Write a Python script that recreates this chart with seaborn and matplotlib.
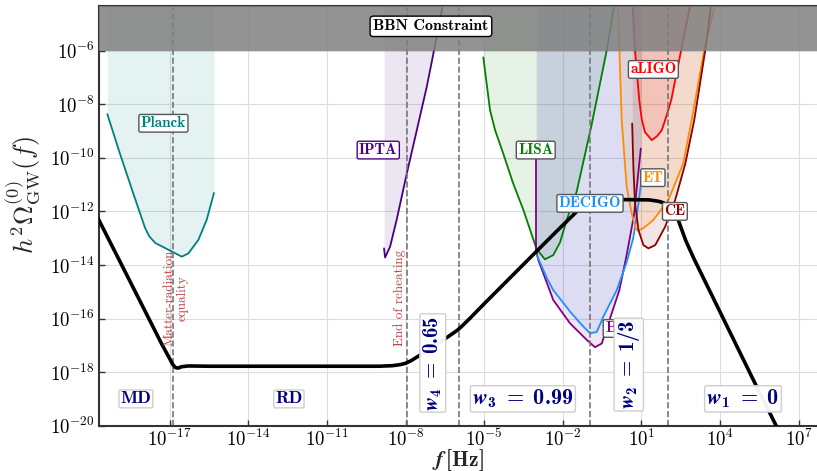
import numpy as np
import pandas as pd
import matplotlib
matplotlib.use("Agg")
import matplotlib.pyplot as plt
from matplotlib.ticker import FixedLocator, FixedFormatter, NullLocator
import seaborn as sns

# ---------------- data: log10 values ----------------
gw_logf = [-19.75, -18.5, -17.3, -17.0, -16.88, -16.78, -16.68, -16.55, -16.3, -15.5,
           -12.0, -9.0, -8.5, -8.2, -8.0, -7.8, -7.6, -7.3, -7.0, -6.5, -6.2, -6.0,
           -5.8, -5.5, -5.0, -4.0, -3.0, -2.2, -1.47, -1.2, -0.95, -0.7, -0.3, 0.44,
           1.3, 1.65, 1.85, 2.03, 2.2, 2.4, 2.7, 3.0, 5.4, 6.4]
gw_logO = [-12.23, -14.64, -16.96, -17.50, -17.72, -17.83, -17.85, -17.80, -17.77, -17.78,
           -17.78, -17.78, -17.76, -17.72, -17.67, -17.58, -17.46, -17.27, -17.07, -16.76, -16.56, -16.42,
           -16.24, -15.95, -15.45, -14.47, -13.49, -12.71, -12.01, -11.80, -11.66, -11.60, -11.57, -11.56,
           -11.57, -11.62, -11.68, -11.80, -11.98, -12.30, -13.10, -13.75, -18.54, -20.5]

planck_logf = [-19.38, -18.90, -18.39, -17.94, -17.78, -17.55, -17.11, -16.54, -16.29, -15.91, -15.59, -15.31]
planck_logO = [-8.37, -9.84, -11.33, -12.62, -12.93, -13.18, -13.40, -13.69, -13.57, -13.07, -12.32, -11.31]

ipta_logf = [-8.82, -8.78, -8.59, -8.34, -7.95, -7.57, -7.19, -6.81, -6.58]
ipta_logO = [-13.38, -13.72, -13.32, -12.32, -10.58, -8.97, -7.35, -5.49, -4.33]

lisa_logf = [-5.03, -4.775, -4.58, -4.27, -3.89, -3.50, -3.0, -2.68, -2.36, -2.10, -1.85, -1.47, -0.90, -0.32, -0.04]
lisa_logO = [-6.25, -8.22, -8.97, -9.84, -10.96, -11.95, -13.40, -13.79, -13.63, -13.15, -12.32, -11.27, -8.78, -5.98, -4.33]

bbo_logf = [-3.02, -3.02, -2.93, -2.36, -1.72, -1.08, -0.77, -0.51, -0.30, 0.16, 0.44, 0.72, 0.98]
bbo_logO = [-9.96, -13.44, -13.82, -15.31, -16.18, -16.80, -17.07, -16.93, -16.31, -14.94, -13.63, -12.14, -9.65]

decigo_logf = [-2.99, -2.60, -2.36, -1.72, -1.27, -0.96, -0.70, -0.45, 0.06, 0.44, 0.69, 0.85, 0.98]
decigo_logO = [-13.63, -14.50, -14.94, -15.74, -16.24, -16.55, -16.50, -15.93, -14.94, -13.90, -13.00, -12.00, -11.02]

et_logf = [0.11, 0.25, 0.44, 0.63, 0.79, 0.86, 1.07, 1.46, 2.03, 2.60, 2.92, 3.40, 3.80]
et_logO = [-4.33, -8.59, -11.08, -12.07, -12.63, -12.72, -12.63, -12.32, -11.58, -10.21, -8.59, -5.98, -4.33]

aligo_logf = [0.67, 0.76, 0.92, 1.02, 1.14, 1.40, 1.60, 1.78, 1.91, 2.14, 2.52, 2.86]
aligo_logO = [-4.33, -5.98, -7.85, -8.59, -9.04, -9.34, -9.19, -8.97, -8.59, -7.85, -5.98, -4.33]

ce_logf = [0.65, 0.70, 0.76, 0.89, 1.08, 1.27, 1.53, 1.91, 2.29, 2.68, 3.02, 3.44, 3.66]
ce_logO = [-8.72, -10.46, -11.70, -12.70, -13.26, -13.38, -13.26, -12.57, -11.58, -10.21, -8.59, -5.98, -4.33]

# detector labels: name, log10 f, log10 Omega
det_names = ["Planck", "IPTA", "LISA", "aLIGO", "ET", "DECIGO", "CE"]
det_label_logf = [-17.24, -9.04, -3.03, 1.46, 1.44, -0.96, 2.28]
det_label_logO = [-8.71, -9.71, -9.71, -6.70, -10.74, -11.70, -12.0]

# epoch transitions (log10 f)
trans_logf = [-16.87, -7.96, -5.95, -0.95, 2.03]

# region labels
region_texts = ["MD", "RD",
                r"$\mathbfit{w}_{\mathrm{4}}\;=\;\mathrm{0.65}$",
                r"$\mathbfit{w}_{\mathrm{3}}\;=\;\mathrm{0.99}$",
                r"$\mathbfit{w}_{\mathrm{2}}\;=\;\mathrm{1/3}$",
                r"$\mathbfit{w}_{\mathrm{1}}\;=\;\mathrm{0}$"]
region_logf = [-18.29, -12.45, -6.96, -3.52, 0.52, 4.88]
region_logO = [-19.0, -19.0, -17.66, -19.0, -17.72, -19.0]
region_rot = [0, 0, 90, 0, 90, 0]

xtick_exp = [-17, -14, -11, -8, -5, -2, 1, 4, 7]
ytick_exp = [-20, -18, -16, -14, -12, -10, -8, -6]

# ---------------- style ----------------
sns.set_theme(style="ticks")
plt.rcParams.update({
    "font.family": ["cmr10", "DejaVu Serif"],
    "mathtext.fontset": "cm",
    "axes.unicode_minus": False,
    "mathtext.rm": "cmb10",
    "mathtext.bf": "cmb10",
    "mathtext.it": "cmmi10",
    "mathtext.bfit": "STIXGeneral:italic:bold",
})

fig = plt.figure(figsize=(8.17, 4.71), dpi=100)
ax = fig.add_axes([0.1208, 0.0962, 0.8805, 0.8917])
ax.set_xscale("log")
ax.set_yscale("log")
ymax = 10 ** -4.32
ax.set_xlim(10 ** -19.71, 10 ** 7.745)
ax.set_ylim(1e-20, ymax)

def df_of(lf, lo):
    return pd.DataFrame({"f": 10.0 ** np.array(lf), "O": 10.0 ** np.array(lo)})

detectors = [
    (planck_logf, planck_logO, "teal"),
    (ipta_logf, ipta_logO, "indigo"),
    (lisa_logf, lisa_logO, "green"),
    (bbo_logf, bbo_logO, "purple"),
    (decigo_logf, decigo_logO, "dodgerblue"),
    (et_logf, et_logO, "darkorange"),
    (aligo_logf, aligo_logO, "red"),
    (ce_logf, ce_logO, "darkred"),
]
for lf, lo, c in detectors:
    d = df_of(lf, lo)
    ax.fill_between(d["f"], d["O"], ymax, color=c, alpha=0.1, lw=0, zorder=1)
    sns.lineplot(data=d, x="f", y="O", color=c, lw=1.3, estimator=None,
                 sort=False, ax=ax, zorder=2)

for lf in trans_logf:
    ax.axvline(10 ** lf, color="#777777", ls="--", lw=1.2, zorder=2.5)

gw = df_of(gw_logf, gw_logO)
sns.lineplot(data=gw, x="f", y="O", color="black", lw=2.6, estimator=None,
             sort=False, ax=ax, zorder=3)

ax.axhspan(1e-6, ymax, color="gray", alpha=0.85, lw=0, zorder=4)

# labels
box_det = dict(boxstyle="round,pad=0.12", fc="white", ec="#555555", lw=1.0)
det_colors = ["teal", "indigo", "green", "red", "darkorange", "dodgerblue", "darkred"]
for n, lf, lo, c in zip(det_names, det_label_logf, det_label_logO, det_colors):
    b = dict(box_det)
    if n == "IPTA":
        b["ec"] = "indigo"
    ax.text(10 ** lf, 10 ** lo, n, color=c, fontsize=11, family="cmb10",
            ha="center", va="center", bbox=b, zorder=6)
ax.text(10 ** -0.385, 10 ** -16.37, "BBO", color="purple", fontsize=11, family="cmb10",
        ha="left", va="center", bbox=box_det, zorder=6)
ax.text(10 ** -7.03, 10 ** -5.09, "BBN Constraint", color="black", fontsize=11.5,
        family="cmb10", ha="center", va="center",
        bbox=dict(boxstyle="round,pad=0.2", fc="white", ec="black", lw=1.0), zorder=6)

box_reg = dict(boxstyle="round,pad=0.08", fc="white", ec="#cccccc", lw=1.0, alpha=0.95)
for t, lf, lo, r in zip(region_texts, region_logf, region_logO, region_rot):
    if t.startswith("$"):
        ax.text(10 ** lf, 10 ** lo, t, color="navy", fontsize=(15 if r else 16),
                rotation=r, ha="center", va="center", math_fontfamily="custom",
                bbox=box_reg, zorder=7)
    else:
        ax.text(10 ** lf, 10 ** lo, t, color="navy", fontsize=13, family="cmb10",
                ha="center", va="center", bbox=box_reg, zorder=7)

ax.text(10 ** -16.76, 10 ** -15.24, "Matter-radiation\nequality", color="firebrick",
        alpha=0.85, fontsize=9.5, rotation=90, ha="center", va="center",
        multialignment="center", family="cmr10", zorder=5)
ax.text(10 ** -8.21, 10 ** -15.24, "End of reheating", color="firebrick",
        alpha=0.85, fontsize=9.5, rotation=90, ha="center", va="center",
        family="cmr10", zorder=5)

# axes cosmetics
ax.xaxis.set_major_locator(FixedLocator([10.0 ** e for e in xtick_exp]))
ax.xaxis.set_major_formatter(FixedFormatter([r"$\mathbf{10^{%d}}$" % e for e in xtick_exp]))
ax.yaxis.set_major_locator(FixedLocator([10.0 ** e for e in ytick_exp]))
ax.yaxis.set_major_formatter(FixedFormatter([r"$\mathbf{10^{%d}}$" % e for e in ytick_exp]))
ax.xaxis.set_minor_locator(NullLocator())
ax.yaxis.set_minor_locator(NullLocator())
ax.tick_params(direction="in", length=4, width=1, labelsize=13.5, pad=3, colors="#333333",
               labelcolor="black")
ax.tick_params(axis="x", pad=2)
ax.grid(True, color="#dddddd", lw=0.8)
ax.set_axisbelow(True)
for s in ax.spines.values():
    s.set_color("#333333")
    s.set_linewidth(1.5)

ax.set_xlabel(r"$\mathbfit{f}\,\mathrm{[Hz]}$", fontsize=15.5, math_fontfamily="custom")
ax.xaxis.set_label_coords(0.5, -0.05)
ax.set_ylabel(r"$h^2\Omega^{(0)}_{\rm GW}(f)$", fontsize=19)
ax.yaxis.set_label_coords(-0.078, 0.55)

fig.savefig("out.png", dpi=100)
